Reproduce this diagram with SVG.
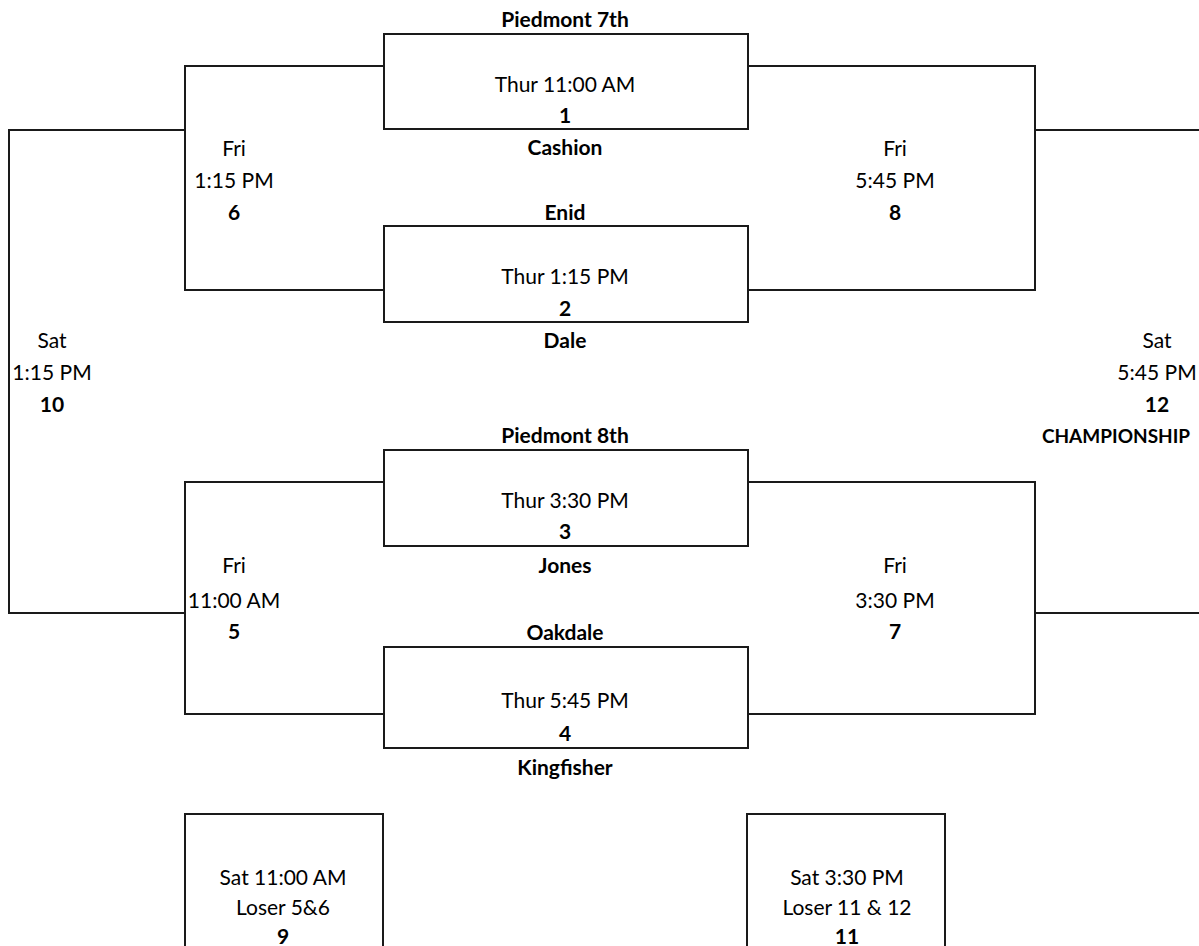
<svg xmlns="http://www.w3.org/2000/svg" width="1199" height="946" viewBox="0 0 1199 946">
<style>
  .ln { fill: none; stroke: #1a1a1a; stroke-width: 2; }
  text { font-family: Lato, "Liberation Sans", sans-serif; font-size: 21px; fill: #000; text-anchor: middle; }
  .b { font-weight: bold; }
</style>
<rect width="1199" height="946" fill="#fff"/>
<g id="connectors">
  <path class="ln" d="M384,66 H185 V290 H384"/>
  <path class="ln" d="M748,66 H1035 V290 H748"/>
  <path class="ln" d="M384,482 H185 V714 H384"/>
  <path class="ln" d="M748,482 H1035 V714 H748"/>
  <path class="ln" d="M185,130 H9 V613 H185"/>
  <path class="ln" d="M1035,130 H1199"/>
  <path class="ln" d="M1035,613 H1199"/>
</g>
<g id="game1">
  <rect class="ln" x="384" y="34" width="364" height="95"/>
  <text class="b" x="565" y="27">Piedmont 7th</text>
  <text x="565" y="92">Thur 11:00 AM</text>
  <text class="b" x="565" y="123">1</text>
  <text class="b" x="565" y="155">Cashion</text>
</g>
<g id="game2">
  <rect class="ln" x="384" y="226" width="364" height="96"/>
  <text class="b" x="565" y="220">Enid</text>
  <text x="565" y="284">Thur 1:15 PM</text>
  <text class="b" x="565" y="316">2</text>
  <text class="b" x="565" y="348">Dale</text>
</g>
<g id="game3">
  <rect class="ln" x="384" y="450" width="364" height="96"/>
  <text class="b" x="565" y="443">Piedmont 8th</text>
  <text x="565" y="508">Thur 3:30 PM</text>
  <text class="b" x="565" y="539">3</text>
  <text class="b" x="565" y="573">Jones</text>
</g>
<g id="game4">
  <rect class="ln" x="384" y="647" width="364" height="101"/>
  <text class="b" x="565" y="640">Oakdale</text>
  <text x="565" y="708">Thur 5:45 PM</text>
  <text class="b" x="565" y="741">4</text>
  <text class="b" x="565" y="775">Kingfisher</text>
</g>
<g id="game6">
  <text x="234" y="156">Fri</text>
  <text x="234" y="188">1:15 PM</text>
  <text class="b" x="234" y="220">6</text>
</g>
<g id="game5">
  <text x="234" y="573">Fri</text>
  <text x="234" y="608">11:00 AM</text>
  <text class="b" x="234" y="639">5</text>
</g>
<g id="game8">
  <text x="895" y="156">Fri</text>
  <text x="895" y="188">5:45 PM</text>
  <text class="b" x="895" y="220">8</text>
</g>
<g id="game7">
  <text x="895" y="573">Fri</text>
  <text x="895" y="608">3:30 PM</text>
  <text class="b" x="895" y="639">7</text>
</g>
<g id="game10">
  <text x="52" y="348">Sat</text>
  <text x="52" y="380">1:15 PM</text>
  <text class="b" x="52" y="412">10</text>
</g>
<g id="game12">
  <text x="1157" y="348">Sat</text>
  <text x="1157" y="380">5:45 PM</text>
  <text class="b" x="1157" y="412">12</text>
  <text class="b" x="1116" y="443" style="font-size:19px">CHAMPIONSHIP</text>
</g>
<g id="game9">
  <path class="ln" d="M185,946 V814 H383 V946"/>
  <text x="283" y="885">Sat 11:00 AM</text>
  <text x="283" y="915">Loser 5&amp;6</text>
  <text class="b" x="283" y="944">9</text>
</g>
<g id="game11">
  <path class="ln" d="M747,946 V814 H945 V946"/>
  <text x="847" y="885">Sat 3:30 PM</text>
  <text x="847" y="915">Loser 11 &amp; 12</text>
  <text class="b" x="847" y="944">11</text>
</g>
</svg>
